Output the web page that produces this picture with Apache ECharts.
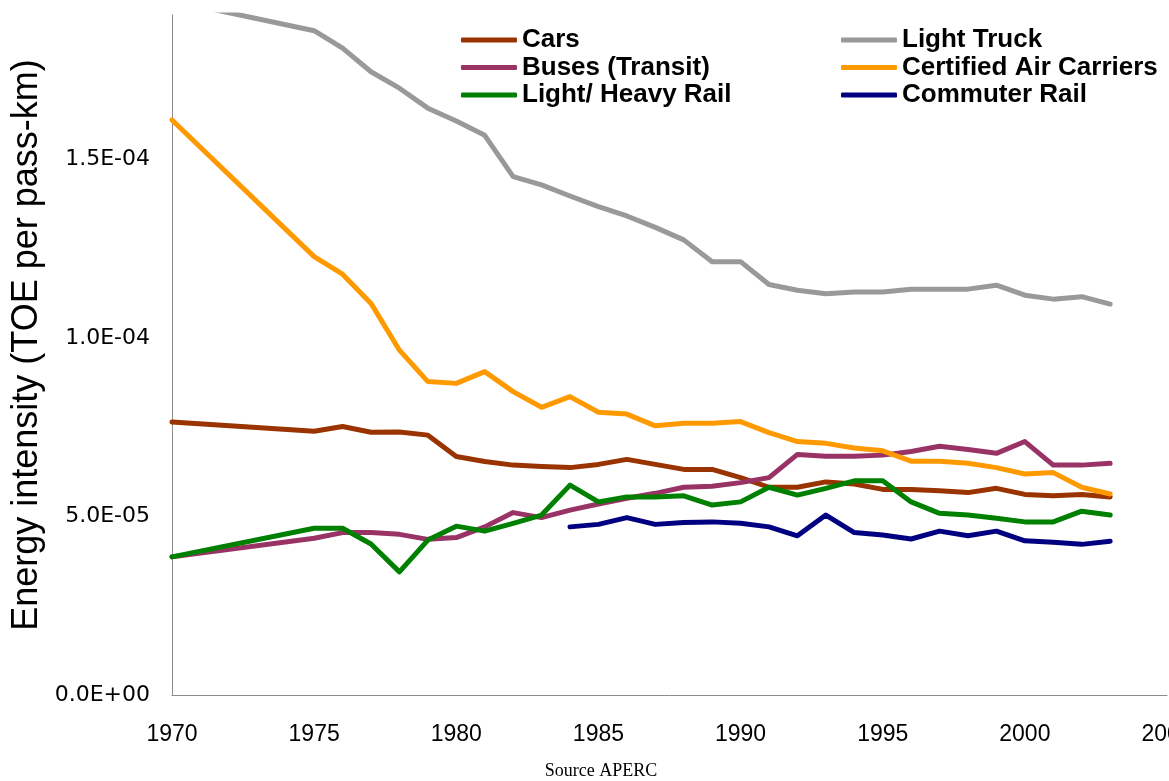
<!DOCTYPE html>
<html>
<head>
<meta charset="utf-8">
<title>Energy intensity by transport mode</title>
<script src="https://cdn.jsdelivr.net/npm/echarts@6/dist/echarts.min.js"></script>
<style>
  html, body { margin: 0; padding: 0; background: #fff; }
  #chart { width: 1169px; height: 781px; }
</style>
</head>
<body>
<div id="chart"></div>
<script>
// Energy intensity, TOE per passenger-km (values in units of 1E-05)
const years = [1970, 1975, 1976, 1977, 1978, 1979, 1980, 1981, 1982, 1983, 1984, 1985, 1986,
  1987, 1988, 1989, 1990, 1991, 1992, 1993, 1994, 1995, 1996, 1997, 1998, 1999, 2000, 2001, 2002, 2003];

const cars = [7.65, 7.39, 7.52, 7.36, 7.37, 7.28, 6.68, 6.54, 6.44, 6.40, 6.37, 6.46, 6.60,
  6.46, 6.32, 6.32, 6.09, 5.82, 5.82, 5.97, 5.91, 5.76, 5.76, 5.72, 5.67, 5.79, 5.62, 5.58, 5.62, 5.55];

const lightTruck = [19.45, 18.61, 18.12, 17.46, 17.0, 16.44, 16.08, 15.68, 14.52, 14.29, 13.98, 13.68, 13.42,
  13.10, 12.75, 12.14, 12.14, 11.50, 11.34, 11.24, 11.29, 11.29, 11.37, 11.37, 11.37, 11.48, 11.20, 11.09, 11.16, 10.95];

const buses = [3.87, 4.39, 4.55, 4.55, 4.50, 4.36, 4.41, 4.71, 5.11, 4.97, 5.18, 5.35, 5.51,
  5.65, 5.82, 5.85, 5.95, 6.09, 6.74, 6.69, 6.69, 6.72, 6.82, 6.97, 6.88, 6.77, 7.10, 6.44, 6.44, 6.49];

const airCarriers = [16.11, 12.28, 11.79, 10.97, 9.66, 8.78, 8.73, 9.06, 8.50, 8.06, 8.36, 7.92, 7.87,
  7.54, 7.61, 7.61, 7.66, 7.35, 7.10, 7.05, 6.92, 6.84, 6.55, 6.55, 6.49, 6.37, 6.19, 6.23, 5.82, 5.63];

const lightHeavyRail = [3.87, 4.67, 4.67, 4.23, 3.45, 4.34, 4.73, 4.59, 4.81, 5.04, 5.88, 5.41, 5.55,
  5.55, 5.58, 5.32, 5.41, 5.82, 5.60, 5.79, 6.00, 6.00, 5.41, 5.09, 5.04, 4.95, 4.85, 4.85, 5.15, 5.04];

// Commuter rail is reported from 1984 onward
const commuterYears = [1984, 1985, 1986, 1987, 1988, 1989, 1990, 1991, 1992, 1993, 1994, 1995, 1996,
  1997, 1998, 1999, 2000, 2001, 2002, 2003];
const commuterRail = [4.71, 4.78, 4.97, 4.78, 4.83, 4.85, 4.81, 4.71, 4.46, 5.04, 4.55, 4.48, 4.37,
  4.59, 4.46, 4.59, 4.32, 4.28, 4.22, 4.31];

const seriesNames = ['Cars', 'Light Truck', 'Buses (Transit)', 'Certified Air Carriers',
  'Light/ Heavy Rail', 'Commuter Rail'];
const seriesColors = ['#993300', '#999999', '#993366', '#ff9900', '#008000', '#000080'];

const yTickLabels = ['0.0E+00', '5.0E-05', '1.0E-04', '1.5E-04'];

const SCALE = 1e-5;
function pairs(xs, ys) {
  return xs.map((x, i) => [x, ys[i] * SCALE]);
}

const seriesData = [
  pairs(years, cars),
  pairs(years, lightTruck),
  pairs(years, buses),
  pairs(years, airCarriers),
  pairs(years, lightHeavyRail),
  pairs(commuterYears, commuterRail)
];

const chart = echarts.init(document.getElementById('chart'), null, { renderer: 'canvas' });

const legendText = {
  fontFamily: 'Liberation Sans, Arial, sans-serif',
  fontWeight: 'bold',
  fontSize: 26,
  color: '#000',
  lineHeight: 26
};

const option = {
  backgroundColor: '#ffffff',
  animation: false,
  color: seriesColors,
  grid: { left: 172, right: 2, top: 15, bottom: 86, containLabel: false, outerBoundsMode: 'none' },
  legend: [
    {
      data: [seriesNames[0], seriesNames[2], seriesNames[4]],
      orient: 'vertical', left: 456, top: 22,
      itemWidth: 56, itemHeight: 5, itemGap: 1.5,
      icon: 'roundRect',
      textStyle: legendText,
      selectedMode: false
    },
    {
      data: [seriesNames[1], seriesNames[3], seriesNames[5]],
      orient: 'vertical', left: 836, top: 22,
      itemWidth: 56, itemHeight: 5, itemGap: 1.5,
      icon: 'roundRect',
      textStyle: legendText,
      selectedMode: false
    }
  ],
  xAxis: {
    type: 'value',
    min: 1970, max: 2005, interval: 5,
    axisLine: { show: true, lineStyle: { color: '#8c8c8c', width: 1 } },
    axisTick: { show: false },
    splitLine: { show: false },
    axisLabel: {
      margin: 28,
      fontFamily: 'Liberation Sans, Arial, sans-serif',
      fontSize: 23,
      color: '#000',
      hideOverlap: false,
      formatter: function (v) { return String(v); }
    }
  },
  yAxis: {
    type: 'value',
    min: 0, max: 19.05 * SCALE, interval: 5 * SCALE,
    axisLine: { show: true, lineStyle: { color: '#8c8c8c', width: 1 } },
    axisTick: { show: false },
    splitLine: { show: false },
    axisLabel: {
      margin: 22,
      fontFamily: 'DejaVu Sans, sans-serif',
      fontSize: 22,
      color: '#000',
      formatter: function (v) {
        const k = Math.round(v / (5 * SCALE));
        if (Math.abs(v - k * 5 * SCALE) > 1e-12) return '';
        return yTickLabels[k] || '';
      }
    }
  },
  graphic: [
    {
      type: 'text',
      x: 27, y: 345,
      rotation: Math.PI / 2,
      style: {
        text: 'Energy intensity (TOE per pass-km)',
        fontFamily: 'Liberation Sans, Arial, sans-serif',
        fontSize: 36,
        fill: '#000',
        align: 'center',
        verticalAlign: 'middle'
      }
    },
    {
      type: 'text',
      x: 601, y: 771,
      style: {
        text: 'Source APERC',
        fontFamily: 'Liberation Serif, Times New Roman, serif',
        fontSize: 18,
        fill: '#000',
        align: 'center',
        verticalAlign: 'middle'
      }
    }
  ],
  series: seriesNames.map((name, i) => ({
    name: name,
    type: 'line',
    data: seriesData[i],
    showSymbol: false,
    symbol: 'none',
    clip: true,
    lineStyle: { width: 5, color: seriesColors[i], cap: 'round', join: 'round' },
    itemStyle: { color: seriesColors[i] },
    emphasis: { disabled: true }
  }))
};

chart.setOption(option);
</script>
</body>
</html>
